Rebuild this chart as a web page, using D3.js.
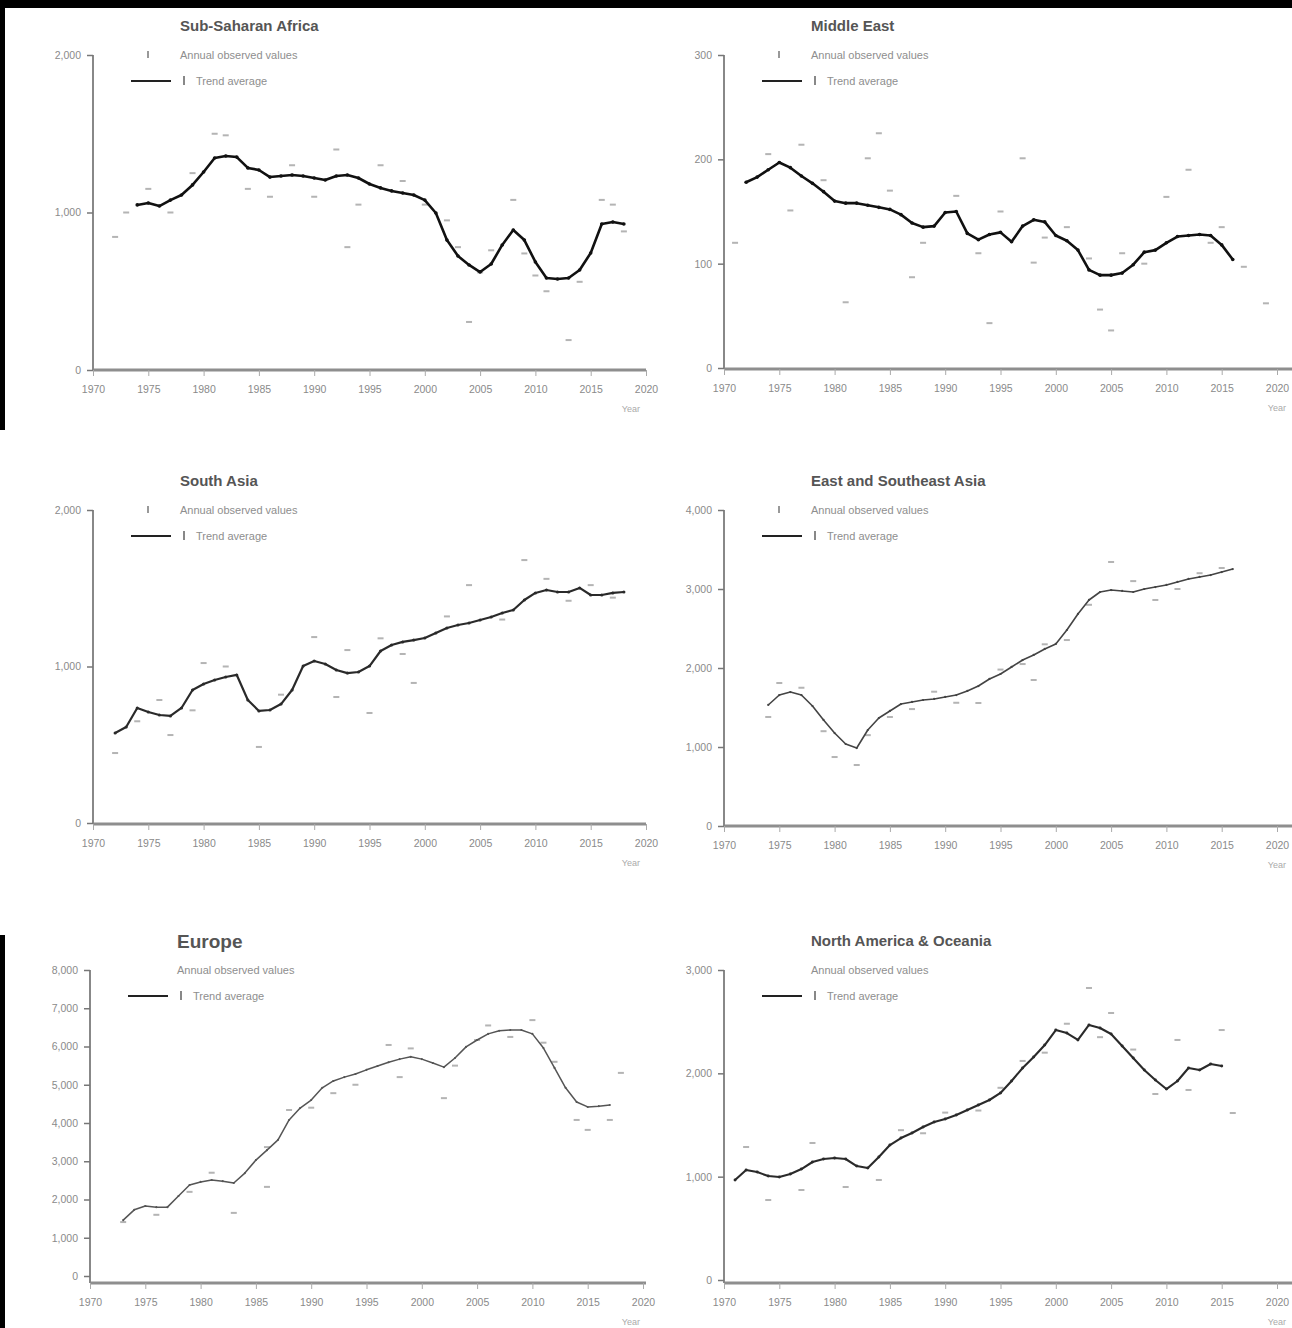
<!DOCTYPE html>
<html>
<head>
<meta charset="utf-8">
<script src="https://cdn.jsdelivr.net/npm/d3@7"></script>
<style>
  body { margin: 0; background: #fff; }
  svg { display: block; font-family: "Liberation Sans", Arial, sans-serif; }
</style>
</head>
<body>
<script>
// x axis tick labels (shared by all panels)
var YEAR_TICKS = [1970, 1975, 1980, 1985, 1990, 1995, 2000, 2005, 2010, 2015, 2020];

// Sub-Saharan Africa
var ssaStart = 1974;
var ssaTrend = [1048, 1060, 1041, 1079, 1111, 1175, 1257, 1346, 1359, 1352, 1283, 1270, 1225, 1232, 1238,
  1232, 1219, 1206, 1232, 1238, 1219, 1181, 1156, 1137, 1124, 1111, 1079, 997, 825, 724,
  667, 622, 673, 794, 889, 825, 686, 584, 578, 584, 635, 743, 927, 940, 927];
var ssaObs = [[1972, 845], [1973, 1000], [1975, 1150], [1977, 1000], [1979, 1250], [1981, 1500], [1982, 1490],
  [1984, 1150], [1986, 1100], [1988, 1300], [1990, 1100], [1992, 1400], [1993, 780], [1994, 1050], [1996, 1300],
  [1998, 1200], [2000, 1050], [2002, 950], [2003, 780], [2004, 305], [2005, 620], [2006, 760], [2008, 1080],
  [2009, 740], [2010, 600], [2011, 500], [2013, 190], [2014, 560], [2016, 1080], [2017, 1050], [2018, 880]];
var ssaTicks = [0, 1000, 2000];

// Middle East
var meStart = 1972;
var meTrend = [178, 183, 190, 197, 192, 184, 177, 169, 160, 158, 158, 156, 154, 152, 147,
  139, 135, 136, 149, 150, 129, 123, 128, 130, 121, 136, 142, 140, 127, 122,
  113, 94, 89, 89, 91, 99, 111, 113, 120, 126, 127, 128, 127, 118, 104];
var meObs = [[1971, 120], [1974, 205], [1976, 151], [1977, 214], [1979, 180], [1981, 63], [1983, 201],
  [1984, 225], [1985, 170], [1987, 87], [1988, 120], [1991, 165], [1993, 110], [1994, 43], [1995, 150],
  [1997, 201], [1998, 101], [1999, 125], [2001, 135], [2003, 105], [2004, 56], [2005, 36], [2006, 110],
  [2008, 100], [2010, 164], [2012, 190], [2014, 120], [2015, 135], [2017, 97], [2019, 62]];
var meTicks = [0, 100, 200, 300];

// South Asia
var saStart = 1972;
var saTrend = [575, 613, 735, 709, 690, 684, 735, 850, 888, 914, 933, 946, 786, 716, 722,
  760, 850, 1003, 1035, 1016, 978, 958, 965, 1003, 1099, 1137, 1157, 1169, 1182, 1214,
  1246, 1265, 1278, 1297, 1316, 1342, 1361, 1425, 1470, 1489, 1476, 1476, 1502, 1457, 1457, 1470, 1476];
var saObs = [[1972, 447], [1974, 650], [1976, 786], [1977, 562], [1979, 720], [1980, 1022], [1982, 1000],
  [1985, 486], [1987, 820], [1990, 1188], [1992, 805], [1993, 1105], [1995, 703], [1996, 1180], [1998, 1080],
  [1999, 895], [2002, 1320], [2004, 1520], [2007, 1300], [2009, 1680], [2011, 1560], [2013, 1420],
  [2015, 1520], [2017, 1440]];
var saTicks = [0, 1000, 2000];

// East and Southeast Asia
var easStart = 1974;
var easTrend = [1532, 1658, 1696, 1658, 1519, 1342, 1177, 1038, 987, 1215, 1367, 1456, 1544, 1570, 1595,
  1608, 1633, 1658, 1709, 1772, 1861, 1924, 2013, 2101, 2165, 2241, 2304, 2481, 2684, 2861,
  2962, 2987, 2975, 2962, 3000, 3025, 3051, 3089, 3127, 3152, 3177, 3215, 3253];
var easObs = [[1974, 1380], [1975, 1810], [1977, 1750], [1979, 1200], [1980, 873], [1982, 772], [1983, 1150],
  [1985, 1380], [1987, 1480], [1989, 1700], [1991, 1560], [1993, 1557], [1995, 1980], [1997, 2050],
  [1998, 1848], [1999, 2300], [2001, 2354], [2003, 2800], [2005, 3342], [2007, 3100], [2009, 2861],
  [2011, 3000], [2013, 3200], [2015, 3266]];
var easTicks = [0, 1000, 2000, 3000, 4000];

// Europe
var euStart = 1973;
var euTrend = [1460, 1730, 1830, 1800, 1800, 2090, 2380, 2460, 2510, 2480, 2430, 2690, 3030, 3290, 3560,
  4080, 4390, 4600, 4920, 5100, 5200, 5280, 5390, 5490, 5590, 5670, 5730, 5670, 5570, 5460,
  5700, 5990, 6170, 6330, 6410, 6430, 6430, 6330, 5960, 5440, 4920, 4550, 4420, 4440, 4470];
var euObs = [[1973, 1410], [1976, 1600], [1979, 2200], [1981, 2700], [1983, 1650], [1986, 2330], [1986, 3370],
  [1988, 4340], [1990, 4400], [1992, 4780], [1994, 5000], [1997, 6040], [1998, 5200], [1999, 5950],
  [2002, 4650], [2003, 5500], [2005, 6170], [2006, 6550], [2008, 6250], [2010, 6690], [2011, 6100],
  [2012, 5600], [2014, 4080], [2015, 3820], [2017, 4080], [2018, 5310]];
var euTicks = [0, 1000, 2000, 3000, 4000, 5000, 6000, 7000, 8000];

// North America & Oceania
var naoStart = 1971;
var naoTrend = [968, 1065, 1045, 1006, 997, 1026, 1074, 1142, 1171, 1181, 1171, 1103, 1084, 1190, 1306,
  1374, 1423, 1481, 1529, 1558, 1597, 1645, 1694, 1742, 1810, 1926, 2052, 2158, 2274, 2419,
  2390, 2323, 2468, 2439, 2381, 2265, 2148, 2032, 1935, 1848, 1926, 2052, 2032, 2090, 2071];
var naoObs = [[1972, 1287], [1974, 774], [1977, 871], [1978, 1326], [1981, 900], [1984, 968], [1986, 1450],
  [1988, 1420], [1990, 1620], [1993, 1640], [1995, 1860], [1997, 2120], [1999, 2200], [2001, 2480],
  [2003, 2826], [2004, 2350], [2005, 2584], [2007, 2230], [2009, 1800], [2011, 2323], [2012, 1839],
  [2015, 2419], [2016, 1616]];
var naoTicks = [0, 1000, 2000, 3000];

var OBS_LABEL = "Annual observed values";
var TREND_LABEL = "Trend average";

var panels = [
  {title: "Sub-Saharan Africa", start: ssaStart, trend: ssaTrend, obs: ssaObs, ticks: ssaTicks,
   ax: 93, top: 55, bottom: 370, axisY: 370, edge: 646, dot: true, stroke: "#111", width: 2.6},
  {title: "Middle East", start: meStart, trend: meTrend, obs: meObs, ticks: meTicks,
   ax: 724, top: 55, bottom: 368, axisY: 369, edge: 1292, dot: true, stroke: "#111", width: 2.6},
  {title: "South Asia", start: saStart, trend: saTrend, obs: saObs, ticks: saTicks,
   ax: 93, top: 510, bottom: 823, axisY: 824, edge: 646, dot: true, stroke: "#2a2a2a", width: 2.2},
  {title: "East and Southeast Asia", start: easStart, trend: easTrend, obs: easObs, ticks: easTicks,
   ax: 724, top: 510, bottom: 826, axisY: 826, edge: 1292, dot: true, stroke: "#444", width: 1.6},
  {title: "Europe", start: euStart, trend: euTrend, obs: euObs, ticks: euTicks,
   ax: 90, top: 970, bottom: 1276, axisY: 1283, edge: 646, dot: false, stroke: "#555", width: 1.5, big: true},
  {title: "North America & Oceania", start: naoStart, trend: naoTrend, obs: naoObs, ticks: naoTicks,
   ax: 724, top: 970, bottom: 1280, axisY: 1283, edge: 1292, dot: false, stroke: "#2a2a2a", width: 2.1}
];

var W = 1292, H = 1328;
var svg = d3.select("body").append("svg").attr("width", W).attr("height", H);

svg.append("rect").attr("width", W).attr("height", H).attr("fill", "#fff");
// dark scan borders
svg.append("rect").attr("x", 0).attr("y", 0).attr("width", W).attr("height", 8).attr("fill", "#000");
svg.append("rect").attr("x", 0).attr("y", 0).attr("width", 5).attr("height", 430).attr("fill", "#000");
svg.append("rect").attr("x", 0).attr("y", 935).attr("width", 5).attr("height", H - 935).attr("fill", "#000");

panels.forEach(drawPanel);

function drawPanel(p) {
  var x = d3.scaleLinear().domain([1970, 2020]).range([p.ax, p.ax + 553]);
  var y = d3.scaleLinear().domain([p.ticks[0], p.ticks[p.ticks.length - 1]]).range([p.bottom, p.top]);
  var g = svg.append("g");

  // title
  g.append("text")
    .attr("x", p.ax + 87).attr("y", p.top - (p.big ? 22 : 24))
    .attr("font-size", p.big ? 19 : 15).attr("font-weight", "bold")
    .attr("fill", "#555")
    .text(p.title);

  // legend
  var lg = g.append("g").attr("fill", "#8e8e8e").attr("font-size", 11);
  if (p.dot) {
    lg.append("rect").attr("x", p.ax + 54).attr("y", p.top - 4).attr("width", 2).attr("height", 7).attr("fill", "#999");
  }
  lg.append("text").attr("x", p.ax + 87).attr("y", p.top + 4).text(OBS_LABEL);
  lg.append("line")
    .attr("x1", p.ax + 38).attr("x2", p.ax + 78)
    .attr("y1", p.top + 26).attr("y2", p.top + 26)
    .attr("stroke", "#222").attr("stroke-width", 2);
  lg.append("rect").attr("x", p.ax + 90).attr("y", p.top + 21).attr("width", 2).attr("height", 9).attr("fill", "#888");
  lg.append("text").attr("x", p.ax + 103).attr("y", p.top + 30).text(TREND_LABEL);

  // x axis
  g.append("line")
    .attr("x1", p.ax).attr("x2", p.edge)
    .attr("y1", p.axisY).attr("y2", p.axisY)
    .attr("stroke", "#8e8e8e").attr("stroke-width", 3);
  var xa = g.append("g")
    .attr("transform", "translate(0," + p.axisY + ")")
    .call(d3.axisBottom(x).tickValues(YEAR_TICKS).tickFormat(d3.format("d")).tickSize(6).tickPadding(10));
  xa.select(".domain").remove();
  xa.selectAll(".tick line").attr("stroke", "#aaa");
  xa.selectAll(".tick text").attr("fill", "#8a8a8a").attr("font-size", 10.5);

  g.append("text")
    .attr("x", p.edge - 6).attr("y", p.axisY + 42)
    .attr("text-anchor", "end").attr("font-size", 9).attr("fill", "#aaa")
    .text("Year");

  // y axis
  g.append("line")
    .attr("x1", p.ax).attr("x2", p.ax)
    .attr("y1", p.top).attr("y2", p.axisY)
    .attr("stroke", "#888").attr("stroke-width", 2);
  var ya = g.append("g")
    .attr("transform", "translate(" + p.ax + ",0)")
    .call(d3.axisLeft(y).tickValues(p.ticks).tickFormat(d3.format(",")).tickSize(6).tickPadding(6));
  ya.select(".domain").remove();
  ya.selectAll(".tick line").attr("stroke", "#777").attr("stroke-width", 1.5);
  ya.selectAll(".tick text").attr("fill", "#8a8a8a").attr("font-size", 10.5);

  // annual observations
  g.append("g").selectAll("rect")
    .data(p.obs)
    .enter().append("rect")
    .attr("x", function (d) { return x(d[0]) - 3; })
    .attr("y", function (d) { return y(d[1]) - 1; })
    .attr("width", 6).attr("height", 2)
    .attr("fill", "#b4b4b4");

  // trend line
  var pts = p.trend.map(function (v, i) { return [p.start + i, v]; });
  var line = d3.line()
    .x(function (d) { return x(d[0]); })
    .y(function (d) { return y(d[1]); });
  g.append("path")
    .datum(pts)
    .attr("d", line)
    .attr("fill", "none")
    .attr("stroke", p.stroke)
    .attr("stroke-width", p.width)
    .attr("stroke-linejoin", "round");
  g.append("g").selectAll("circle")
    .data(pts)
    .enter().append("circle")
    .attr("cx", function (d) { return x(d[0]); })
    .attr("cy", function (d) { return y(d[1]); })
    .attr("r", p.width * 0.7)
    .attr("fill", p.stroke);
}
</script>
</body>
</html>
